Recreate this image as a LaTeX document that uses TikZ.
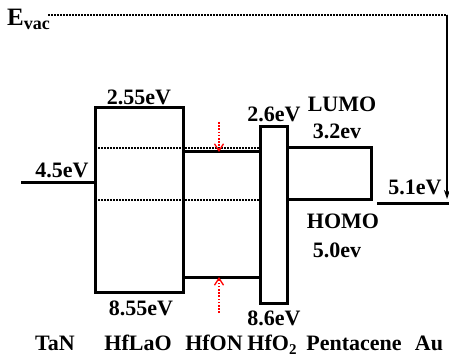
\documentclass[tikz,border=0pt]{standalone}
\usepackage{fontspec}
\setmainfont{Liberation Serif}
\usetikzlibrary{arrows.meta}
\tikzset{
  band edge/.style={
    line width=3pt,
    black
  },
  level line/.style={
    line width=2pt,
    dash pattern=on 1.6pt off 1.4pt,
    black
  },
  shift arrow/.style={
    -{Straight Barb[length=7pt, width=9pt, line width=1.3pt]},
    line width=1.8pt,
    dash pattern=on 1.6pt off 1.6pt,
    color=red
  },
  energy label/.style={
    font=\fontsize{22}{24}\selectfont\bfseries,
    anchor=base,
    inner sep=0pt
  }
}

\begin{document}
\begin{tikzpicture}[x=1pt, y=-1pt]
    \useasboundingbox (0,0) rectangle (449,363);

    % 1. 真空能级
    \node[energy label, anchor=base west] (Evac) at (7,26)
      {\fontsize{25}{27}\selectfont E\textsubscript{\fontsize{18}{19}\selectfont vac}};
    \coordinate (VacEnd) at (447,15);
    \coordinate (AuTip) at (447,199);
    \draw[level line] (48,15) -- (VacEnd);
    \draw[line width=2.2pt, -{Stealth[length=9pt, width=6pt]}] (VacEnd) -- (AuTip);

    % 2. TaN 与 Au 的费米能级
    \draw[band edge] (21,183) -- (95,183);
    \draw[band edge] (377,204) -- (449,204);

    % 3. HfLaO, HfON, HfO2, Pentacene
    \draw[band edge] (95,108) rectangle (183,292);
    \draw[band edge] (183,152) -- (260,152);
    \draw[band edge] (183,277) -- (260,277);
    \draw[band edge] (260,127) rectangle (287,303);
    \draw[band edge] (287,148) -- (371,148) -- (371,200) -- (287,200);

    % 4. LUMO / HOMO 虚线
    \draw[level line] (95,148) -- (260,148);
    \draw[level line] (95,200) -- (260,200);

    % 5. 能带偏移箭头
    \coordinate (HfONTop) at (219,152);
    \coordinate (HfONBot) at (219,277);
    \draw[shift arrow] (219,122) -- (HfONTop);
    \draw[shift arrow] (219,313) -- (HfONBot);

    % 6. 能量标注
    \node[energy label] (LaoTop) at (139,105) {2.55eV};
    \node[energy label] (LaoBot) at (141,315) {8.55eV};
    \node[energy label] (TaNlvl) at (62,178) {4.5eV};
    \node[energy label] (HfoTop) at (274,122) {2.6eV};
    \node[energy label] (HfoBot) at (274,325) {8.6eV};
    \node[energy label] (Lumo) at (342,112) {LUMO};
    \node[energy label] (LumoVal) at (337,139) {3.2ev};
    \node[energy label] (Homo) at (343,228) {HOMO};
    \node[energy label] (HomoVal) at (337,257) {5.0ev};
    \node[energy label] (Aulvl) at (415,195) {5.1eV};

    % 7. 材料名称
    \node[energy label] (TaN) at (55,350) {TaN};
    \node[energy label] (HfLaO) at (138,350) {HfLaO};
    \node[energy label] (HfON) at (214,350) {HfON};
    \node[energy label] (HfO) at (272,350)
      {HfO\raisebox{-4.5pt}{\fontsize{15}{16}\selectfont 2}};
    \node[energy label] (Pent) at (354,350) {Pentacene};
    \node[energy label] (Au) at (429,350) {Au};
  \end{tikzpicture}
\end{document}
